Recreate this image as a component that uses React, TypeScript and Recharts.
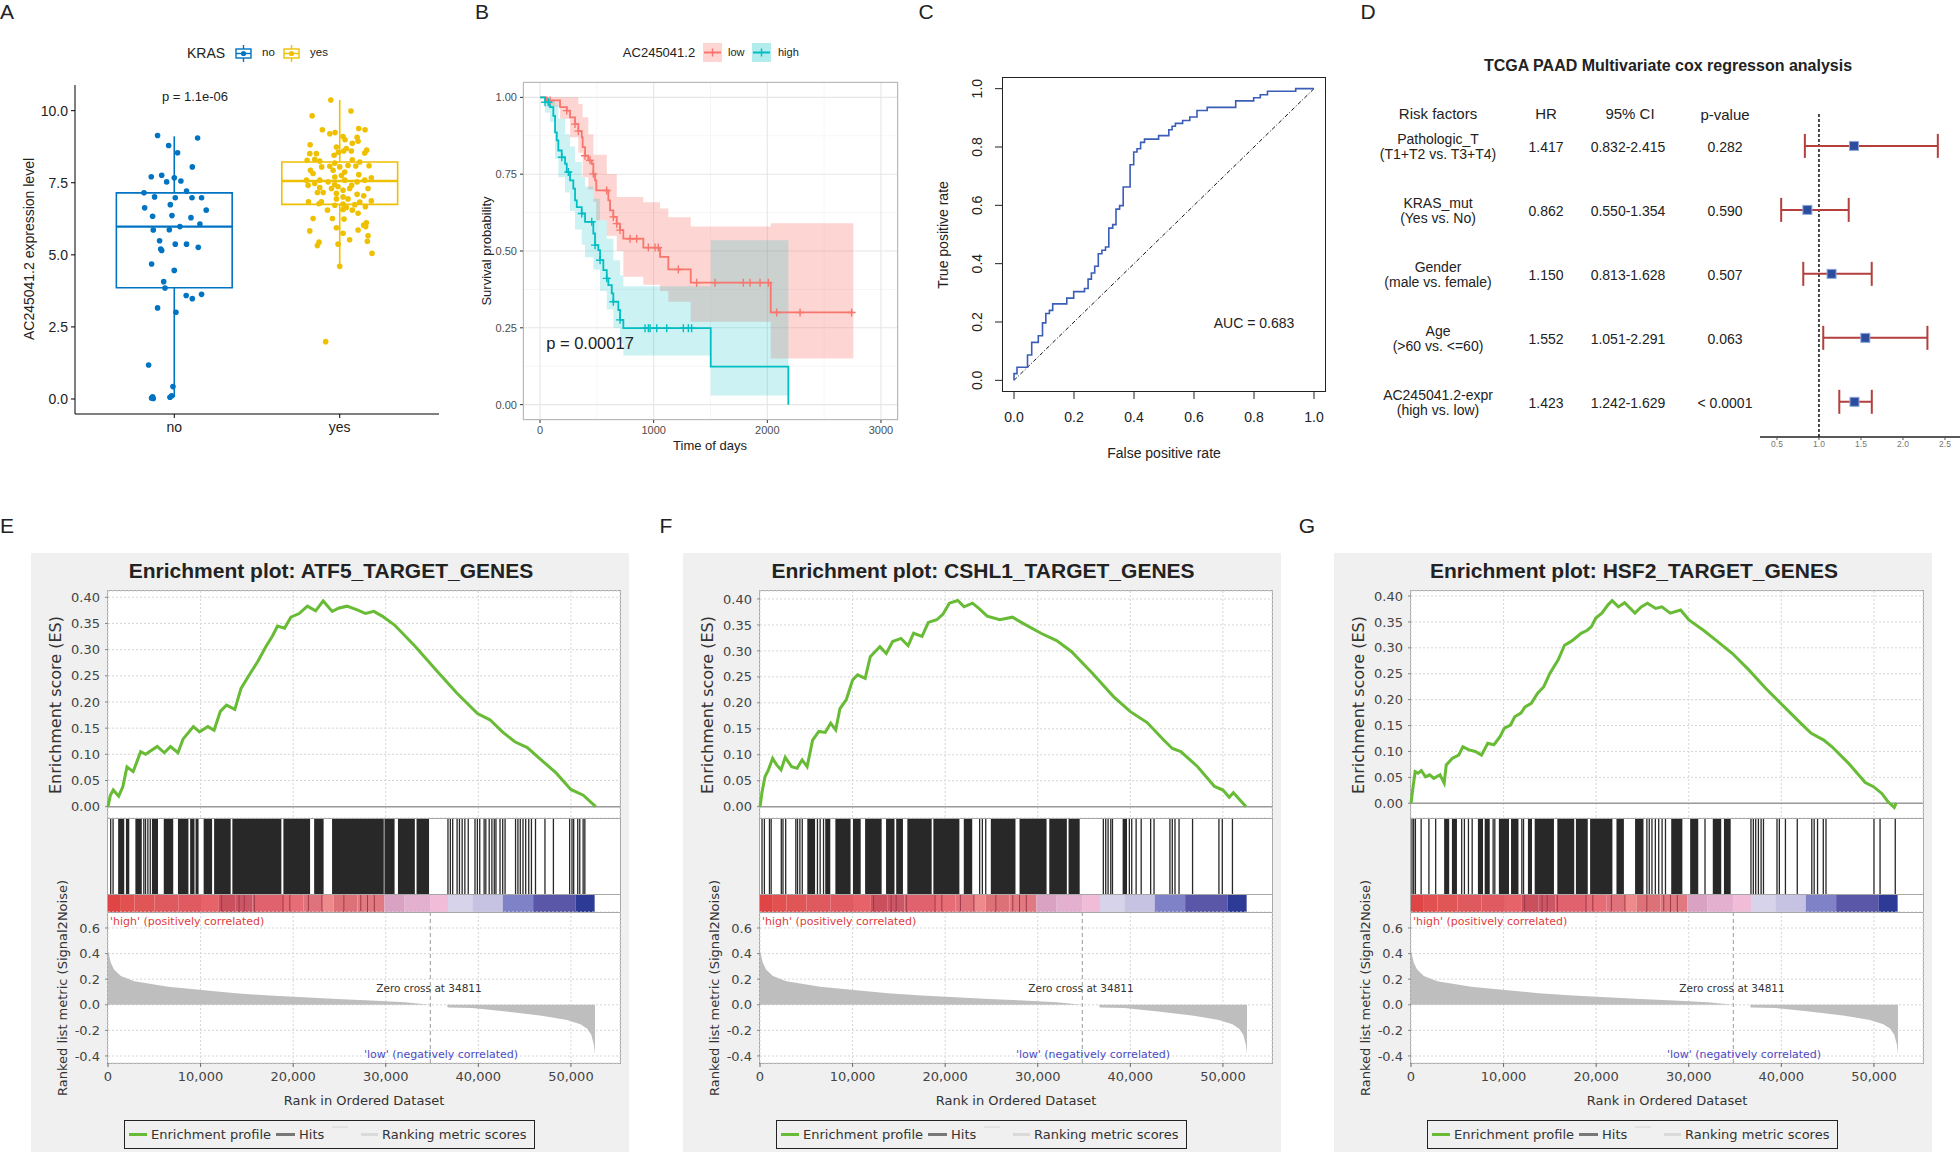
import React from 'react'
import {
  ComposedChart, BarChart, Line, Area, Bar, Scatter, XAxis, YAxis, CartesianGrid,
  ReferenceLine, ReferenceArea, ErrorBar,
} from 'recharts'

const SANS = "'Liberation Sans', Arial, sans-serif"
const DEJAVU = "'DejaVu Sans', sans-serif"
const NARROW = "'Liberation Sans Narrow', 'Arial Narrow', 'Liberation Sans', sans-serif"

// ---------- A: KRAS boxplot ----------
const krasGroups = ['no', 'yes']
// [jitter offset, expression]
const noPts = [
  [-0.101, 9.14], [0.141, 9.05], [-0.034, 8.79], [0.02, 8.54], [0.109, 8.05], [-0.139, 7.71],
  [-0.076, 7.76], [-0.046, 7.53], [0, 7.67], [0.04, 7.56], [0.074, 7.21], [-0.183, 7.15],
  [-0.119, 7.01], [0.006, 6.98], [0.107, 6.98], [0.165, 6.98], [-0.024, 6.74], [-0.179, 6.63],
  [0.193, 6.55], [-0.131, 6.34], [-0.014, 6.36], [0.101, 6.29], [0.155, 6.07], [0.034, 5.98],
  [-0.127, 5.86], [-0.03, 5.87], [-0.089, 5.49], [-0.082, 5.2], [-0.076, 5.15], [0.006, 5.37],
  [0.074, 5.37], [0.145, 5.26], [-0.137, 4.68], [0, 4.46], [-0.064, 4.07], [-0.056, 3.85],
  [0.072, 3.59], [0.109, 3.48], [0.165, 3.63], [-0.101, 3.16], [0.01, 3.01], [-0.155, 1.18],
  [-0.008, 0.43], [-0.131, 0.08], [-0.127, 0.02], [-0.016, 0.11], [-0.026, 0.06], [-0.137, 0.03],
]
const yesPts = [
  [-0.054, 10.37], [0.068, 9.99], [-0.167, 9.82], [-0.105, 9.34], [-0.028, 9.24], [-0.06, 9.2],
  [0.115, 9.38], [0.153, 9.34], [0.02, 9.1], [0.105, 9.08], [0.076, 8.87], [0.032, 8.99],
  [0.111, 8.94], [-0.179, 8.82], [-0.02, 8.74], [0.04, 8.69], [0.163, 8.63], [0.151, 8.53],
  [-0.034, 8.45], [-0.008, 8.56], [-0.181, 8.51], [-0.141, 8.51], [0.07, 8.6], [0.024, 8.6],
  [-0.151, 8.31], [-0.197, 8.28], [-0.121, 8.25], [-0.03, 8.18], [0.076, 8.3], [0.121, 8.22],
  [0.05, 8.1], [0.177, 8.09], [0.097, 8.08], [0, 8.05], [-0.06, 8.07], [-0.109, 8.05],
  [-0.04, 7.93], [-0.177, 7.93], [0.03, 7.87], [-0.161, 7.82], [0.115, 7.78], [0.01, 7.75],
  [-0.03, 7.7], [0.191, 7.67], [0.03, 7.59], [0.151, 7.59], [-0.121, 7.59], [-0.201, 7.59],
  [-0.07, 7.53], [0.105, 7.53], [-0.151, 7.47], [-0.191, 7.41], [-0.03, 7.44], [0.072, 7.41],
  [-0.01, 7.36], [-0.121, 7.33], [0.171, 7.3], [0.06, 7.3], [-0.05, 7.3], [0.02, 7.24],
  [-0.135, 7.16], [-0.1, 7.16], [-0.02, 7.13], [0.105, 7.1], [0.02, 7.01], [0.145, 7.05],
  [0.05, 6.94], [-0.02, 6.94], [0.191, 6.87], [-0.189, 6.84], [-0.111, 6.84], [-0.125, 6.77],
  [0.121, 6.83], [0.02, 6.76], [0.091, 6.74], [0.155, 6.67], [-0.03, 6.72], [0.04, 6.64],
  [-0.074, 6.55], [0.02, 6.57], [0.111, 6.44], [0.076, 6.55], [-0.161, 6.26], [-0.044, 6.26],
  [0.026, 6.24], [0.161, 6.11], [0.145, 6.03], [0.157, 5.98], [-0.02, 5.94], [-0.181, 5.83],
  [0.111, 5.86], [0.02, 5.75], [0.171, 5.66], [0.06, 5.52], [0.167, 5.47], [-0.125, 5.44],
  [-0.135, 5.32], [-0.01, 5.37], [0.195, 5.05], [0, 4.6], [-0.085, 1.99],
]
// [lower whisker, q1, median, q3, upper whisker]
const boxNo = [0.06, 3.86, 5.98, 7.15, 9.11]
const boxYes = [4.6, 6.75, 7.56, 8.22, 10.37]

// ---------- B: Kaplan-Meier ----------
const kmLowTime = [0, 59, 176, 235, 264, 308, 337, 367, 375, 396, 425, 455, 469, 484, 495, 601, 616, 645, 675, 704, 733, 909, 1056, 1129, 1326, 2030, 2757]
const kmLowSurv = [1, 0.99, 0.968, 0.957, 0.935, 0.913, 0.89, 0.87, 0.838, 0.81, 0.795, 0.784, 0.751, 0.73, 0.697, 0.665, 0.632, 0.611, 0.589, 0.568, 0.54, 0.511, 0.481, 0.44, 0.397, 0.3, 0.3]
const kmHighTime = [0, 44, 88, 117, 132, 147, 161, 191, 220, 235, 264, 293, 308, 323, 367, 396, 469, 484, 513, 528, 557, 587, 601, 631, 645, 689, 704, 733, 1502, 2185]
const kmHighSurv = [1, 0.984, 0.968, 0.94, 0.886, 0.86, 0.827, 0.805, 0.784, 0.757, 0.73, 0.703, 0.665, 0.643, 0.622, 0.595, 0.557, 0.519, 0.503, 0.47, 0.438, 0.411, 0.389, 0.362, 0.335, 0.308, 0.276, 0.249, 0.124, 0]
const censLowTime = [88, 235, 308, 337, 396, 440, 469, 587, 645, 675, 704, 792, 850, 953, 1012, 1040, 1217, 1378, 1540, 1789, 1848, 1936, 2009, 2082, 2288, 2742]
const censLowSurv = [0.99, 0.957, 0.913, 0.89, 0.81, 0.795, 0.751, 0.697, 0.611, 0.589, 0.568, 0.54, 0.54, 0.511, 0.511, 0.511, 0.44, 0.397, 0.397, 0.397, 0.397, 0.397, 0.397, 0.3, 0.3, 0.3]
const censHighTime = [44, 73, 191, 249, 367, 455, 484, 528, 587, 645, 704, 924, 953, 968, 1027, 1115, 1261, 1305, 1334]
const censHighSurv = [0.984, 0.984, 0.805, 0.757, 0.622, 0.595, 0.519, 0.47, 0.411, 0.335, 0.276, 0.249, 0.249, 0.249, 0.249, 0.249, 0.249, 0.249, 0.249]
const ciLowTime = [0, 59, 176, 264, 337, 375, 425, 469, 495, 587, 675, 733, 909, 1056, 1129, 1326, 2030, 2757]
const ciLowUpper = [1, 1, 1, 1, 0.978, 0.935, 0.88, 0.813, 0.813, 0.751, 0.676, 0.676, 0.659, 0.638, 0.61, 0.58, 0.59, 0.59]
const ciLowLower = [1, 0.97, 0.93, 0.87, 0.82, 0.74, 0.7, 0.66, 0.6, 0.55, 0.5, 0.416, 0.39, 0.37, 0.335, 0.27, 0.15, 0.15]
const ciHighTime = [0, 44, 88, 132, 161, 220, 264, 308, 367, 396, 469, 528, 587, 645, 704, 733, 1502, 2185]
const ciHighUpper = [1, 1, 0.99, 0.975, 0.93, 0.88, 0.84, 0.79, 0.74, 0.71, 0.67, 0.6, 0.54, 0.47, 0.42, 0.385, 0.535, 0.535]
const ciHighLower = [1, 0.95, 0.92, 0.8, 0.74, 0.69, 0.63, 0.57, 0.52, 0.48, 0.44, 0.37, 0.31, 0.25, 0.2, 0.16, 0.03, 0.03]

// ---------- C: ROC ----------
const rocFpr = [0, 0, 0.01, 0.045, 0.059, 0.081, 0.095, 0.106, 0.118, 0.129, 0.176, 0.199, 0.235, 0.247, 0.258, 0.269, 0.281, 0.293, 0.305, 0.316, 0.329, 0.34, 0.352, 0.364, 0.387, 0.399, 0.41, 0.422, 0.435, 0.482, 0.516, 0.527, 0.538, 0.562, 0.586, 0.61, 0.644, 0.739, 0.799, 0.821, 0.845, 0.939, 1]
const rocTpr = [0, 0.023, 0.045, 0.087, 0.13, 0.153, 0.197, 0.229, 0.24, 0.262, 0.282, 0.304, 0.315, 0.347, 0.368, 0.391, 0.434, 0.446, 0.457, 0.522, 0.534, 0.587, 0.599, 0.663, 0.739, 0.783, 0.794, 0.816, 0.827, 0.839, 0.859, 0.871, 0.881, 0.891, 0.903, 0.925, 0.936, 0.958, 0.969, 0.979, 0.991, 1, 1]

// ---------- D: multivariate cox ----------
const coxFactors = ['Pathologic_T', 'KRAS_mut', 'Gender', 'Age', 'AC245041.2-expr']
const coxContrasts = ['(T1+T2 vs. T3+T4)', '(Yes vs. No)', '(male vs. female)', '(>60 vs. <=60)', '(high vs. low)']
const coxHR = [1.417, 0.862, 1.15, 1.552, 1.423]
const coxLow = [0.832, 0.55, 0.813, 1.051, 1.242]
const coxHigh = [2.415, 1.354, 1.628, 2.291, 1.629]
const coxP = ['0.282', '0.590', '0.507', '0.063', '< 0.0001']

// ---------- E-G: GSEA ----------
const rankTicks = [0, 10000, 20000, 30000, 40000, 50000]
const esTicks = [0, 0.05, 0.1, 0.15, 0.2, 0.25, 0.3, 0.35, 0.4]
const metricTicks = [-0.4, -0.2, 0, 0.2, 0.4, 0.6]
const metricRank = [0, 110, 292, 657, 1387, 2847, 6497, 10147, 13797, 17447, 21097, 24747, 28397, 32047, 34785, 36610, 36700, 39347, 42997, 46647, 49567, 51027, 51757, 52195, 52487, 52597]
const metricValue = [0.42, 0.39, 0.33, 0.275, 0.225, 0.183, 0.14, 0.115, 0.09, 0.072, 0.058, 0.045, 0.033, 0.02, 0, 0, -0.022, -0.026, -0.052, -0.083, -0.118, -0.152, -0.188, -0.235, -0.314, -0.387]
const cbEnds = [1387, 2847, 5037, 7592, 10147, 11972, 13797, 15622, 18907, 21097, 23105, 24382, 26937, 29857, 32047, 34785, 36719, 39347, 42632, 45917, 50480, 52560]
const cbColors = ['#E04545', '#E25050', '#E05656', '#DE5A5E', '#E05A62', '#E6636A', '#C9505C', '#CB5666', '#E0626E', '#E66C76', '#E0727C', '#EE8A8C', '#DC7278', '#E07A80', '#D9A2C2', '#E3B0D0', '#F0BCD8', '#D6D3EA', '#C6C2E2', '#7F82C7', '#5A57A8', '#2D3B96']
const cbStreaks = [12264, 14162, 14710, 15805, 18907, 19637, 21645, 23105, 25477, 27302, 28032, 28762]

const esAtf5 = [[0, 0], [255, 0.022], [570, 0.032], [1150, 0.02], [1600, 0.038], [2050, 0.076], [2720, 0.067], [3525, 0.105], [4060, 0.1], [5320, 0.115], [6080, 0.103], [6750, 0.115], [7560, 0.103], [8100, 0.129], [9220, 0.153], [9890, 0.143], [10790, 0.153], [11460, 0.146], [12130, 0.182], [12800, 0.194], [13700, 0.186], [14370, 0.226], [15270, 0.252], [16160, 0.277], [17060, 0.306], [17730, 0.325], [18310, 0.345], [19070, 0.341], [19750, 0.362], [20640, 0.369], [21540, 0.383], [22430, 0.374], [23240, 0.393], [24220, 0.373], [24900, 0.379], [25800, 0.383], [26920, 0.376], [27810, 0.369], [28710, 0.373], [29610, 0.364], [30950, 0.347], [33190, 0.306], [35430, 0.261], [37670, 0.217], [39910, 0.178], [41250, 0.166], [42600, 0.143], [43940, 0.124], [45290, 0.113], [46630, 0.092], [48420, 0.064], [49990, 0.033], [51330, 0.022], [52680, 0]]
const esCshl1 = [[0, 0], [227, 0.029], [545, 0.058], [909, 0.071], [1364, 0.093], [1818, 0.08], [2273, 0.071], [2727, 0.095], [3409, 0.077], [4000, 0.074], [4545, 0.09], [5090, 0.077], [5680, 0.128], [6360, 0.145], [7045, 0.143], [7636, 0.161], [8180, 0.148], [8636, 0.189], [9318, 0.206], [10000, 0.244], [10545, 0.254], [11360, 0.247], [11910, 0.289], [12950, 0.308], [13640, 0.295], [14320, 0.318], [15230, 0.324], [16000, 0.31], [16590, 0.334], [17500, 0.328], [18180, 0.355], [19090, 0.36], [19770, 0.371], [20450, 0.392], [21360, 0.397], [22040, 0.385], [22950, 0.392], [23640, 0.382], [24540, 0.367], [25900, 0.36], [27270, 0.365], [28410, 0.353], [30450, 0.333], [32040, 0.32], [33630, 0.299], [35900, 0.257], [38180, 0.212], [40000, 0.183], [41810, 0.162], [43630, 0.128], [44540, 0.112], [45450, 0.106], [47270, 0.077], [49090, 0.039], [50000, 0.032], [50680, 0.018], [51130, 0.027], [52500, 0]]
const esHsf2 = [[0, 0], [224, 0.032], [448, 0.061], [762, 0.058], [1120, 0.063], [1570, 0.051], [2016, 0.055], [2464, 0.048], [3136, 0.055], [3584, 0.039], [3808, 0.074], [4480, 0.087], [5150, 0.093], [5600, 0.109], [6270, 0.103], [6944, 0.1], [7616, 0.093], [8290, 0.116], [8960, 0.113], [9630, 0.129], [10080, 0.145], [10750, 0.151], [11200, 0.167], [11870, 0.174], [12320, 0.186], [12990, 0.193], [13660, 0.212], [14340, 0.225], [15010, 0.251], [15900, 0.277], [16580, 0.305], [17250, 0.312], [17700, 0.318], [18370, 0.328], [19040, 0.334], [19490, 0.341], [19940, 0.357], [20610, 0.367], [21280, 0.383], [21730, 0.391], [22400, 0.379], [23070, 0.387], [24190, 0.367], [24860, 0.379], [25540, 0.386], [26430, 0.376], [27100, 0.379], [28000, 0.367], [29120, 0.373], [30020, 0.354], [31580, 0.334], [32930, 0.315], [34720, 0.289], [36510, 0.257], [38300, 0.222], [40100, 0.19], [41890, 0.158], [43230, 0.135], [44580, 0.122], [45470, 0.109], [47260, 0.077], [49060, 0.04], [49950, 0.032], [50850, 0.019], [51520, 0.003], [52190, -0.008], [52420, 0.001]]

const hitsAtf5 = [292, 548, 3869, 4052, 4307, 4563, 36719, 36975, 37230, 37705, 37960, 38252, 38544, 38909, 39639, 39895, 40150, 40625, 40807, 41172, 41464, 41720, 41902, 42340, 42632, 42888, 44019, 44275, 44530, 44822, 45114, 45443, 45735, 46173, 47195, 48107, 49859, 50115, 50297, 50735, 50954, 51319, 51502]
const blocksAtf5 = [[1095, 1752], [1935, 2300], [2957, 3650], [4745, 5402], [6023, 7045], [7556, 8687], [8870, 9344], [9454, 9782], [10330, 11242], [11461, 13250], [13432, 18725], [18944, 21827], [22265, 23287], [24200, 29784], [29857, 30952], [31317, 33142], [33325, 34675]]
const hitsCshl1 = [219, 474, 1022, 1205, 2300, 2482, 2774, 3869, 4052, 4307, 4563, 6205, 6497, 6862, 23725, 24017, 24382, 37084, 37340, 37595, 37887, 38070, 39895, 40150, 40625, 41172, 42194, 42559, 44275, 44530, 44822, 45260, 46720, 49567, 49932, 51027]
const blocksCshl1 = [[5110, 5950], [7045, 7592], [8140, 9782], [10038, 10877], [11352, 13140], [13615, 14527], [14710, 15440], [15914, 18542], [18725, 21535], [22010, 22922], [24930, 27594], [28032, 30952], [31244, 33142], [33325, 34529], [39165, 39639]]
const hitsHsf2 = [110, 292, 475, 1095, 1935, 2665, 5475, 5767, 6205, 6607, 8870, 9052, 11972, 12155, 25477, 25733, 26025, 26390, 26755, 27120, 27485, 31755, 36719, 36975, 37230, 37522, 37814, 38070, 39530, 39785, 40442, 41720, 43289, 43545, 43910, 44530, 44822, 50005, 50662, 52305]
const blocksHsf2 = [[3577, 4125], [4417, 4964], [7227, 7775], [7957, 8505], [9490, 10585], [10804, 11607], [12629, 13067], [13359, 15440], [15805, 17630], [17812, 19090], [19345, 21754], [22192, 22995], [24200, 25112], [28105, 29310], [30150, 31025], [32595, 33507], [33800, 34529]]

const BLUE = '#0073C2'
const YELLOW = '#EFC000'
const RED = '#F8766D'
const TEAL = '#00BFC4'
const GREEN = '#67BB35'
const RANK_DOMAIN = [0, 55300]

const PAD = 10
// plot area at (x, y, w, h) on the page; yw / xh = axis sizes
const place = (x: number, y: number, w: number, h: number, yw = 0, xh = 0) => ({
  style: { position: 'absolute' as const, left: x - yw - PAD, top: y - PAD },
  width: w + yw + 2 * PAD,
  height: h + xh + 2 * PAD,
  margin: { top: PAD, right: PAD, bottom: PAD, left: PAD },
})

function Txt({ x, y, size = 13, color = '#222', anchor = 'middle', rotate = 0, bold = false, font = SANS, children }: any) {
  const tx = anchor === 'start' ? '0%' : anchor === 'end' ? '-100%' : '-50%'
  return (
    <div
      style={{
        position: 'absolute', left: x, top: y, fontSize: size, lineHeight: 1, color,
        fontFamily: font, fontWeight: bold ? 700 : 400, whiteSpace: 'nowrap',
        transform: `translate(${tx}, -50%)` + (rotate ? ` rotate(${rotate}deg)` : ''),
      }}
    >
      {children}
    </div>
  )
}

function Glyph({ x, y, w, h, children }: any) {
  return (
    <svg width={w} height={h} style={{ position: 'absolute', left: x, top: y }}>
      {children}
    </svg>
  )
}

const dot = (color: string) => (p: any) => <circle cx={p.cx} cy={p.cy} r={2.8} fill={color} />
const plus = (color: string) => (p: any) => (
  <path d={`M${p.cx - 4},${p.cy}h8M${p.cx},${p.cy - 4}v8`} stroke={color} strokeWidth={1.4} />
)

function PanelA() {
  const p = place(75, 85, 364, 329, 45, 30)
  const noRows = noPts.map(([dx, v]) => ({ x: 1 + dx, y: v }))
  const yesRows = yesPts.map(([dx, v]) => ({ x: 2 + dx, y: v }))
  const boxes = [boxNo, boxYes].flatMap(([lo, q1, med, q3, hi], i) => {
    const g = i + 1
    const c = i ? YELLOW : BLUE
    return [
      <ReferenceArea key={`b${i}`} x1={g - 0.35} x2={g + 0.35} y1={q1} y2={q3} fill="none" stroke={c} strokeWidth={1.6} />,
      <ReferenceLine key={`m${i}`} segment={[{ x: g - 0.35, y: med }, { x: g + 0.35, y: med }]} stroke={c} strokeWidth={2.4} />,
      <ReferenceLine key={`u${i}`} segment={[{ x: g, y: q3 }, { x: g, y: hi }]} stroke={c} strokeWidth={1.6} />,
      <ReferenceLine key={`l${i}`} segment={[{ x: g, y: lo }, { x: g, y: q1 }]} stroke={c} strokeWidth={1.6} />,
    ]
  })
  const key = (c: string) => (
    <>
      <line x1={8.5} x2={8.5} y1={0} y2={17} stroke={c} strokeWidth={1.4} />
      <rect x={1} y={4} width={15} height={9} fill="#fff" stroke={c} strokeWidth={1.4} />
      <line x1={1} x2={16} y1={8.5} y2={8.5} stroke={c} strokeWidth={1.4} />
      <circle cx={8.5} cy={8.5} r={2.6} fill={c} />
    </>
  )
  return (
    <>
      <Txt x={7} y={11} size={21}>A</Txt>
      <Txt x={206} y={53} size={14}>KRAS</Txt>
      <Glyph x={235} y={45} w={17} h={17}>{key(BLUE)}</Glyph>
      <Txt x={262} y={53} size={11.5} anchor="start">no</Txt>
      <Glyph x={283} y={45} w={17} h={17}>{key(YELLOW)}</Glyph>
      <Txt x={310} y={53} size={11.5} anchor="start">yes</Txt>
      <Txt x={195} y={96} size={13}>p = 1.1e-06</Txt>
      <Txt x={29} y={249} size={14} rotate={-90}>AC245041.2 expression level</Txt>
      <div style={p.style}>
        <ComposedChart width={p.width} height={p.height} margin={p.margin}>
          <XAxis
            type="number" dataKey="x" domain={[0.4, 2.6]} ticks={[1, 2]} height={30}
            tickFormatter={(v) => krasGroups[v - 1]} axisLine={{ stroke: '#000' }} tickLine={{ stroke: '#000' }}
            tickSize={4} tickMargin={4} tick={{ fontSize: 14, fill: '#222', fontFamily: SANS }}
          />
          <YAxis
            type="number" domain={[-0.52, 10.89]} ticks={[0, 2.5, 5, 7.5, 10]} width={45}
            tickFormatter={(v) => v.toFixed(1)} axisLine={{ stroke: '#000' }} tickLine={{ stroke: '#000' }}
            tickSize={4} tickMargin={3} tick={{ fontSize: 14, fill: '#222', fontFamily: SANS }}
          />
          {boxes}
          <Scatter data={noRows} dataKey="y" shape={dot(BLUE)} isAnimationActive={false} />
          <Scatter data={yesRows} dataKey="y" shape={dot(YELLOW)} isAnimationActive={false} />
        </ComposedChart>
      </div>
    </>
  )
}

function PanelB() {
  const p = place(523, 82, 375, 338, 40, 25)
  const lowLine = kmLowTime.map((t, i) => ({ t, s: kmLowSurv[i] }))
  const highLine = kmHighTime.map((t, i) => ({ t, s: kmHighSurv[i] }))
  const lowCens = censLowTime.map((t, i) => ({ t, s: censLowSurv[i] }))
  const highCens = censHighTime.map((t, i) => ({ t, s: censHighSurv[i] }))
  const lowCi = ciLowTime.map((t, i) => ({ t, ci: [ciLowLower[i], ciLowUpper[i]] }))
  const highCi = ciHighTime.map((t, i) => ({ t, ci: [ciHighLower[i], ciHighUpper[i]] }))
  const axisTick = { fontSize: 11, fill: '#4D4D4D', fontFamily: SANS }
  const key = (c: string) => (
    <>
      <rect x={0} y={0} width={19} height={19} fill={c} fillOpacity={0.3} />
      <line x1={1} x2={18} y1={9.5} y2={9.5} stroke={c} strokeWidth={2} />
      <path d="M9.5,5.5v8" stroke={c} strokeWidth={1.4} />
    </>
  )
  return (
    <>
      <Txt x={482} y={11} size={21}>B</Txt>
      <Txt x={659} y={52} size={13}>AC245041.2</Txt>
      <Glyph x={703} y={43} w={19} h={19}>{key(RED)}</Glyph>
      <Txt x={728} y={52} size={11} anchor="start">low</Txt>
      <Glyph x={752} y={43} w={19} h={19}>{key(TEAL)}</Glyph>
      <Txt x={778} y={52} size={11} anchor="start">high</Txt>
      <Txt x={486} y={251} size={13} rotate={-90}>Survival probability</Txt>
      <Txt x={710} y={445} size={13}>Time of days</Txt>
      <div style={p.style}>
        <ComposedChart width={p.width} height={p.height} margin={p.margin}>
          <CartesianGrid stroke="#F2F2F2" strokeWidth={0.7} verticalValues={[500, 1500, 2500]} horizontalValues={[0.125, 0.375, 0.625, 0.875]} />
          <CartesianGrid stroke="#E6E6E6" strokeWidth={1.1} />
          <XAxis
            type="number" dataKey="t" domain={[-150, 3150]} ticks={[0, 1000, 2000, 3000]} height={25}
            axisLine={false} tickSize={3} tickMargin={3} tickLine={{ stroke: '#333' }} tick={axisTick}
          />
          <YAxis
            type="number" domain={[-0.05, 1.05]} ticks={[0, 0.25, 0.5, 0.75, 1]} width={40}
            tickFormatter={(v) => v.toFixed(2)} axisLine={false} tickSize={3} tickMargin={3}
            tickLine={{ stroke: '#333' }} tick={axisTick}
          />
          <Area data={lowCi} dataKey="ci" type="stepAfter" fill={RED} fillOpacity={0.3} stroke="none" isAnimationActive={false} />
          <Area data={highCi} dataKey="ci" type="stepAfter" fill={TEAL} fillOpacity={0.2} stroke="none" isAnimationActive={false} />
          <Line data={lowLine} dataKey="s" type="stepAfter" stroke={RED} strokeWidth={1.8} dot={false} isAnimationActive={false} />
          <Line data={highLine} dataKey="s" type="stepAfter" stroke={TEAL} strokeWidth={1.8} dot={false} isAnimationActive={false} />
          <Scatter data={lowCens} dataKey="s" shape={plus(RED)} isAnimationActive={false} />
          <Scatter data={highCens} dataKey="s" shape={plus(TEAL)} isAnimationActive={false} />
        </ComposedChart>
      </div>
      <div style={{ position: 'absolute', left: 523, top: 82, width: 375, height: 338, border: '1px solid #B8B8B8', boxSizing: 'border-box' }} />
      <Txt x={590} y={343} size={16.5}>p = 0.00017</Txt>
    </>
  )
}

function PanelC() {
  const p = place(1002, 77, 324, 315, 40, 45)
  const rows = rocFpr.map((f, i) => ({ fpr: f, tpr: rocTpr[i] }))
  const ticks = [0, 0.2, 0.4, 0.6, 0.8, 1]
  const rotTick = (t: any) => (
    <text x={t.x} y={t.y} transform={`rotate(-90 ${t.x} ${t.y})`} textAnchor="middle" fontSize={14} fill="#222" fontFamily={SANS}>
      {Number(t.payload.value).toFixed(1)}
    </text>
  )
  return (
    <>
      <Txt x={926} y={11} size={21}>C</Txt>
      <Txt x={943} y={235} size={14} rotate={-90}>True positive rate</Txt>
      <Txt x={1164} y={453} size={14}>False positive rate</Txt>
      <div style={p.style}>
        <ComposedChart width={p.width} height={p.height} margin={p.margin} data={rows}>
          <XAxis
            type="number" dataKey="fpr" domain={[-0.04, 1.04]} ticks={ticks} height={45}
            tickFormatter={(v) => v.toFixed(1)} axisLine={false} tickSize={7} tickMargin={13}
            tickLine={{ stroke: '#222' }} tick={{ fontSize: 14, fill: '#222', fontFamily: SANS }}
          />
          <YAxis
            type="number" domain={[-0.04, 1.04]} ticks={ticks} width={40}
            axisLine={false} tickSize={7} tickMargin={13} tickLine={{ stroke: '#222' }} tick={rotTick}
          />
          <ReferenceLine segment={[{ x: 0, y: 0 }, { x: 1, y: 1 }]} stroke="#111" strokeDasharray="4 2 1 2" strokeWidth={1} />
          <Line dataKey="tpr" type="stepAfter" stroke="#3A5DB8" strokeWidth={1.6} dot={false} isAnimationActive={false} />
        </ComposedChart>
      </div>
      <div style={{ position: 'absolute', left: 1002, top: 77, width: 324, height: 315, border: '1px solid #222', boxSizing: 'border-box' }} />
      <Txt x={1254} y={323} size={14}>AUC = 0.683</Txt>
    </>
  )
}

function PanelD() {
  const top = 112
  const h = 325
  const dom = [0.47, 5.55]
  const p = place(1760, top, 200, h, 0, 20)
  const rows = coxHR.map((hr, i) => ({ hr, row: i + 1, err: [hr - coxLow[i], coxHigh[i] - hr] }))
  const rowY = (r: number) => top + ((r - dom[0]) / (dom[1] - dom[0])) * h
  const square = (s: any) => (
    <rect x={s.cx - 4.5} y={s.cy - 4.5} width={9} height={9} fill="#2C4D9E" stroke="#8FA6D8" strokeWidth={1} />
  )
  return (
    <>
      <Txt x={1368} y={11} size={21}>D</Txt>
      <Txt x={1668} y={66} size={16} bold>TCGA PAAD Multivariate cox regresson analysis</Txt>
      <Txt x={1438} y={113} size={15}>Risk factors</Txt>
      <Txt x={1546} y={113} size={15}>HR</Txt>
      <Txt x={1630} y={113} size={15}>95% CI</Txt>
      <Txt x={1725} y={114} size={15}>p-value</Txt>
      {coxFactors.map((f, i) => {
        const y = rowY(i + 1) + 1
        return (
          <React.Fragment key={f}>
            <Txt x={1438} y={y - 7.5} size={14} font={NARROW}>{f}</Txt>
            <Txt x={1438} y={y + 7.5} size={14} font={NARROW}>{coxContrasts[i]}</Txt>
            <Txt x={1546} y={y} size={14} font={NARROW}>{coxHR[i].toFixed(3)}</Txt>
            <Txt x={1628} y={y} size={14} font={NARROW}>{`${coxLow[i].toFixed(3)}-${coxHigh[i].toFixed(3)}`}</Txt>
            <Txt x={1725} y={y} size={14} font={NARROW}>{coxP[i]}</Txt>
          </React.Fragment>
        )
      })}
      <div style={p.style}>
        <ComposedChart width={p.width} height={p.height} margin={p.margin}>
          <XAxis
            type="number" dataKey="hr" domain={[0.298, 2.679]} ticks={[0.5, 1, 1.5, 2, 2.5]} height={20}
            tickFormatter={(v) => v.toFixed(1)} axisLine={{ stroke: '#222', strokeWidth: 1.6 }}
            tickSize={3} tickMargin={1} tickLine={{ stroke: '#555' }} tick={{ fontSize: 8.5, fill: '#777', fontFamily: NARROW }}
          />
          <YAxis type="number" domain={dom} reversed hide />
          <ReferenceLine x={1} stroke="#111" strokeDasharray="3 2" strokeWidth={1.5} />
          <Scatter data={rows} dataKey="row" shape={square} isAnimationActive={false}>
            <ErrorBar dataKey="err" direction="x" width={12} stroke="#B3403E" strokeWidth={2} />
          </Scatter>
        </ComposedChart>
      </div>
    </>
  )
}

const hitLine = (p: any) => (
  <line x1={p.cx} x2={p.cx} y1={p.cy - 38} y2={p.cy + 38} stroke="#282828" strokeWidth={1.3} />
)

function Gsea({ bx, letter, letterX, title, es, esDomain, hits, blocks }: any) {
  const pl = bx + 77
  const pw = 512
  const esRows = es.map(([rank, v]: number[]) => ({ rank, es: v }))
  const hitRows = hits.map((rank: number) => ({ rank, y: 0.5 }))
  const metricRows = metricRank.map((rank, i) => ({ rank, m: metricValue[i] }))
  const cbRow: any = { name: 'bar' }
  cbEnds.forEach((e, i) => { cbRow[`s${i}`] = e - (i ? cbEnds[i - 1] : 0) })
  const pES = place(pl, 591, pw, 227, 50, 0)
  const pHits = place(pl, 818, pw, 76)
  const pBar = place(pl, 894, pw, 18)
  const pRank = place(pl, 912, pw, 151, 50, 30)
  const tick = { fontSize: 13, fill: '#444', fontFamily: DEJAVU }
  const sep = (y: number) => (
    <div style={{ position: 'absolute', left: pl, top: y, width: pw, height: 1, background: '#A8A8A8' }} />
  )
  return (
    <>
      <div style={{ position: 'absolute', left: bx, top: 553, width: 598, height: 599, background: '#F0F0F0' }} />
      <Txt x={letterX} y={525} size={21}>{letter}</Txt>
      <Txt x={bx + 300} y={570} size={21} bold>{title}</Txt>
      <div style={{ position: 'absolute', left: pl, top: 591, width: pw, height: 472, background: '#fff', outline: '1px solid #A8A8A8' }} />
      <div style={pES.style}>
        <ComposedChart width={pES.width} height={pES.height} margin={pES.margin} data={esRows}>
          <CartesianGrid stroke="#D6D6D6" strokeDasharray="2 2" />
          <XAxis type="number" dataKey="rank" domain={RANK_DOMAIN} ticks={rankTicks} hide />
          <YAxis
            type="number" domain={esDomain} ticks={esTicks} width={50} tickFormatter={(v) => v.toFixed(2)}
            axisLine={false} tickSize={3} tickMargin={5} tickLine={{ stroke: '#888' }} tick={tick}
          />
          <ReferenceLine y={0} stroke="#9A9A9A" strokeWidth={1.5} />
          <Line dataKey="es" type="linear" stroke={GREEN} strokeWidth={3} dot={false} isAnimationActive={false} />
        </ComposedChart>
      </div>
      <div style={pHits.style}>
        <ComposedChart width={pHits.width} height={pHits.height} margin={pHits.margin} data={hitRows}>
          <XAxis type="number" dataKey="rank" domain={RANK_DOMAIN} hide />
          <YAxis type="number" domain={[0, 1]} hide />
          {blocks.map(([a, b]: number[], i: number) => (
            <ReferenceArea key={i} x1={a} x2={b} y1={0} y2={1} fill="#282828" fillOpacity={1} stroke="none" />
          ))}
          <Scatter dataKey="y" shape={hitLine} isAnimationActive={false} />
        </ComposedChart>
      </div>
      <div style={pBar.style}>
        <BarChart layout="vertical" width={pBar.width} height={pBar.height} margin={pBar.margin} data={[cbRow]} barCategoryGap={0}>
          <XAxis type="number" domain={RANK_DOMAIN} hide />
          <YAxis type="category" dataKey="name" hide />
          {cbColors.map((c, i) => (
            <Bar key={i} dataKey={`s${i}`} stackId="cb" fill={c} isAnimationActive={false} />
          ))}
          {cbStreaks.map((r) => (
            <ReferenceLine key={r} x={r} stroke="#A03848" strokeWidth={1} />
          ))}
        </BarChart>
      </div>
      <div style={pRank.style}>
        <ComposedChart width={pRank.width} height={pRank.height} margin={pRank.margin} data={metricRows}>
          <CartesianGrid stroke="#D6D6D6" strokeDasharray="2 2" />
          <XAxis
            type="number" dataKey="rank" domain={RANK_DOMAIN} ticks={rankTicks} height={30}
            tickFormatter={(v) => v.toLocaleString('en-US')} axisLine={false} tickSize={4} tickMargin={5}
            tickLine={{ stroke: '#666' }} tick={tick}
          />
          <YAxis
            type="number" domain={[-0.455, 0.725]} ticks={metricTicks} width={50} tickFormatter={(v) => v.toFixed(1)}
            axisLine={false} tickSize={3} tickMargin={5} tickLine={{ stroke: '#888' }} tick={tick}
          />
          <Area dataKey="m" type="linear" fill="#BEBEBE" fillOpacity={1} stroke="none" baseValue={0} isAnimationActive={false} />
          <ReferenceLine x={34811} stroke="#9A9A9A" strokeDasharray="4 3" />
        </ComposedChart>
      </div>
      {sep(818)}
      {sep(894)}
      {sep(912)}
      <Txt x={pl + 2} y={921} size={11} color="#E03C3C" anchor="start" font={DEJAVU}>'high' (positively correlated)</Txt>
      <Txt x={pl + 321} y={988} size={10.5} color="#333" font={DEJAVU}>Zero cross at 34811</Txt>
      <Txt x={pl + 333} y={1054} size={11} color="#4B4BC4" font={DEJAVU}>'low' (negatively correlated)</Txt>
      <Txt x={bx + 25} y={705} size={16} rotate={-90} color="#333" font={DEJAVU}>Enrichment score (ES)</Txt>
      <Txt x={bx + 31} y={988} size={13} rotate={-90} color="#333" font={DEJAVU}>Ranked list metric (Signal2Noise)</Txt>
      <Txt x={pl + 256} y={1100} size={13} color="#333" font={DEJAVU}>Rank in Ordered Dataset</Txt>
      <div style={{ position: 'absolute', left: bx + 93, top: 1120, width: 411, height: 29, border: '1.5px solid #222', boxSizing: 'border-box' }} />
      <div style={{ position: 'absolute', left: bx + 98, top: 1133, width: 18, height: 3, background: GREEN }} />
      <Txt x={bx + 120} y={1134} size={13} color="#333" anchor="start" font={DEJAVU}>Enrichment profile</Txt>
      <div style={{ position: 'absolute', left: bx + 245, top: 1133, width: 19, height: 3, background: '#777' }} />
      <Txt x={bx + 268} y={1134} size={13} color="#333" anchor="start" font={DEJAVU}>Hits</Txt>
      <div style={{ position: 'absolute', left: bx + 301, top: 1126, width: 16, height: 2, background: '#E2E2E2' }} />
      <div style={{ position: 'absolute', left: bx + 330, top: 1133, width: 17, height: 3, background: '#DADADA' }} />
      <Txt x={bx + 351} y={1134} size={13} color="#333" anchor="start" font={DEJAVU}>Ranking metric scores</Txt>
    </>
  )
}

export default function App() {
  return (
    <div
      style={{
        position: 'absolute', left: 0, top: 0, width: 1960, height: 1152, overflow: 'hidden',
        background: '#fff', fontFamily: SANS, color: '#222',
      }}
    >
      <PanelA />
      <PanelB />
      <PanelC />
      <PanelD />
      <Gsea bx={31} letter="E" letterX={7} title="Enrichment plot: ATF5_TARGET_GENES" es={esAtf5} esDomain={[-0.0216, 0.412]} hits={hitsAtf5} blocks={blocksAtf5} />
      <Gsea bx={683} letter="F" letterX={666} title="Enrichment plot: CSHL1_TARGET_GENES" es={esCshl1} esDomain={[-0.0218, 0.4154]} hits={hitsCshl1} blocks={blocksCshl1} />
      <Gsea bx={1334} letter="G" letterX={1307} title="Enrichment plot: HSF2_TARGET_GENES" es={esHsf2} esDomain={[-0.0284, 0.4097]} hits={hitsHsf2} blocks={blocksHsf2} />
    </div>
  )
}
